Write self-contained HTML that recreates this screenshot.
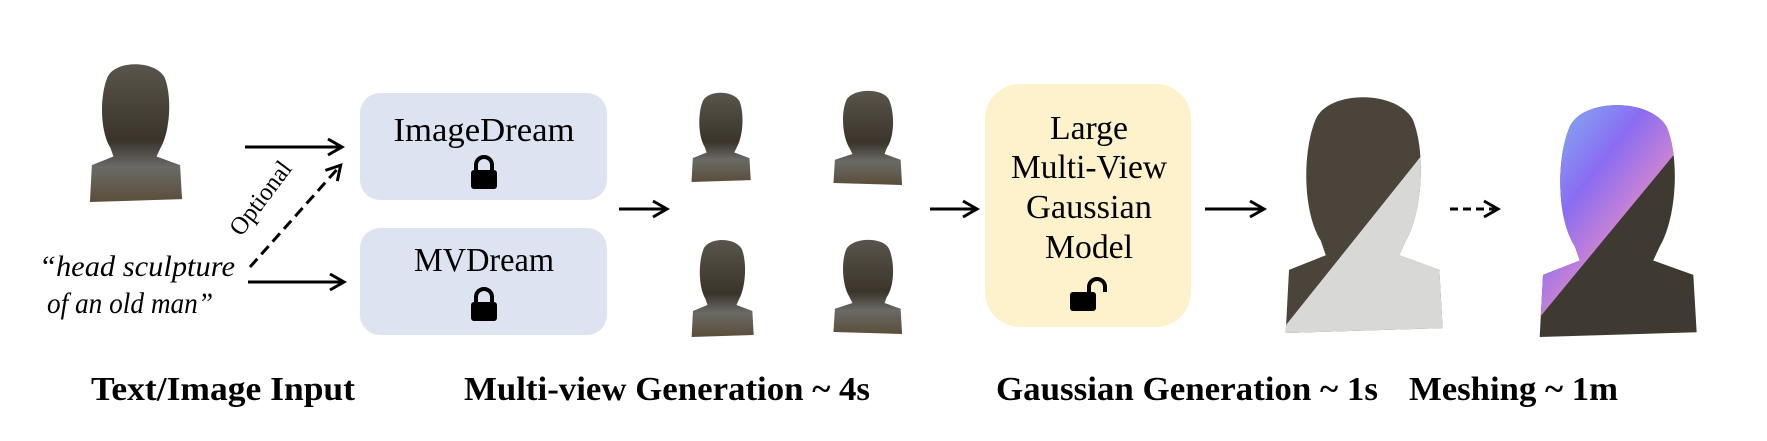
<!DOCTYPE html>
<html><head><meta charset="utf-8"><style>html,body{margin:0;padding:0;background:#fff}svg{display:block}</style></head>
<body>
<svg width="1767" height="441" viewBox="0 0 1767 441" xmlns="http://www.w3.org/2000/svg" font-family="Liberation Serif, serif">
<defs>
<marker id="ah2" viewBox="0 0 20 20" markerWidth="20" markerHeight="20" refX="16" refY="10" orient="auto" markerUnits="userSpaceOnUse"><path d="M3,2 L17,10 L3,18" fill="none" stroke="#000" stroke-width="3"/></marker>
<path id="bust" d="M22,12 C30,0 70,0 80,12 C88,25 86,50 76,62 L72,68 L96,74 L98,98 L4,100 L6,74 L28,68 L25,62 C14,50 14,25 22,12 Z"/>
<linearGradient id="bronze" x1="0" y1="0" x2="0" y2="1"><stop offset="0" stop-color="#5a554c"/><stop offset="0.55" stop-color="#3a342b"/><stop offset="0.75" stop-color="#6a6a66"/><stop offset="1" stop-color="#5b4d3a"/></linearGradient>
<linearGradient id="nrm" x1="0" y1="0" x2="1" y2="1"><stop offset="0" stop-color="#7fd0f0"/><stop offset="0.35" stop-color="#8a6cf2"/><stop offset="0.6" stop-color="#e48cc8"/><stop offset="1" stop-color="#6a8af5"/></linearGradient>
<clipPath id="cg"><use href="#bust" transform="translate(1279,90) scale(1.67,2.43)"/></clipPath>
<clipPath id="cn"><use href="#bust" transform="translate(1533,98) scale(1.67,2.39)"/></clipPath>
</defs>

<use href="#bust" transform="translate(86,60) scale(0.98,1.42)" fill="url(#bronze)"/>
<text x="137" y="276" font-size="30" font-style="italic" text-anchor="middle" textLength="196" lengthAdjust="spacingAndGlyphs">“head sculpture</text>
<text x="130" y="313" font-size="30" font-style="italic" text-anchor="middle" textLength="166" lengthAdjust="spacingAndGlyphs">of an old man”</text>

<line x1="245" y1="147" x2="341" y2="147" stroke="#000" stroke-width="3" marker-end="url(#ah2)"/>
<line x1="248" y1="282" x2="343" y2="282" stroke="#000" stroke-width="3" marker-end="url(#ah2)"/>
<line x1="250" y1="267" x2="340" y2="166" stroke="#000" stroke-width="3" stroke-dasharray="11,6" marker-end="url(#ah2)"/>
<text x="0" y="0" font-size="25" text-anchor="middle" transform="translate(267,203) rotate(-53)" textLength="86" lengthAdjust="spacingAndGlyphs">Optional</text>

<rect x="360" y="93" width="247" height="107" rx="20" fill="#dde3f0"/>
<text x="484" y="141" font-size="34" text-anchor="middle" textLength="181" lengthAdjust="spacingAndGlyphs">ImageDream</text>
<g transform="translate(484,174)"><path d="M-8,-4 V-9 A8,8 0 0 1 8,-9 V-4" fill="none" stroke="#000" stroke-width="4"/><rect x="-13" y="-4" width="26" height="19" rx="3"/></g>
<rect x="360" y="228" width="247" height="107" rx="20" fill="#dde3f0"/>
<text x="484" y="271" font-size="34" text-anchor="middle" textLength="140" lengthAdjust="spacingAndGlyphs">MVDream</text>
<g transform="translate(484,306)"><path d="M-8,-4 V-9 A8,8 0 0 1 8,-9 V-4" fill="none" stroke="#000" stroke-width="4"/><rect x="-13" y="-4" width="26" height="19" rx="3"/></g>

<line x1="619" y1="209" x2="666" y2="209" stroke="#000" stroke-width="3" marker-end="url(#ah2)"/>

<use href="#bust" transform="translate(689,90) scale(0.63,0.92)" fill="url(#bronze)"/>
<use href="#bust" transform="translate(905,88) scale(-0.73,0.97)" fill="url(#bronze)"/>
<use href="#bust" transform="translate(689,237) scale(0.66,1.0)" fill="url(#bronze)"/>
<use href="#bust" transform="translate(905,237) scale(-0.73,0.97)" fill="url(#bronze)"/>

<line x1="930" y1="209" x2="976" y2="209" stroke="#000" stroke-width="3" marker-end="url(#ah2)"/>

<rect x="985" y="84" width="206" height="243" rx="35" fill="#fdf2cc"/>
<g font-size="34" text-anchor="middle">
<text x="1089" y="139" textLength="78" lengthAdjust="spacingAndGlyphs">Large</text>
<text x="1089" y="178" textLength="156" lengthAdjust="spacingAndGlyphs">Multi-View</text>
<text x="1089" y="218" textLength="126" lengthAdjust="spacingAndGlyphs">Gaussian</text>
<text x="1089" y="258" textLength="88" lengthAdjust="spacingAndGlyphs">Model</text>
</g>
<g transform="translate(1083,296)"><path d="M6,-4 V-9 A8,8 0 0 1 22,-9 V-4" fill="none" stroke="#000" stroke-width="4"/><rect x="-13" y="-4" width="26" height="19" rx="3"/></g>

<line x1="1205" y1="209" x2="1263" y2="209" stroke="#000" stroke-width="3" marker-end="url(#ah2)"/>

<g clip-path="url(#cg)">
<rect x="1270" y="80" width="190" height="260" fill="#4a443b"/>
<polygon points="1470,95 1470,345 1270,345" fill="#d8d8d6"/>
</g>

<line x1="1450" y1="209" x2="1497" y2="209" stroke="#000" stroke-width="3" stroke-dasharray="8,5" marker-end="url(#ah2)"/>

<g clip-path="url(#cn)">
<rect x="1525" y="90" width="190" height="260" fill="#3f3a31"/>
<polygon points="1525,90 1715,90 1715,105 1525,335" fill="url(#nrm)"/>
</g>

<g font-size="34" font-weight="bold">
<text x="91" y="400" textLength="264" lengthAdjust="spacingAndGlyphs">Text/Image Input</text>
<text x="464" y="400" textLength="406" lengthAdjust="spacingAndGlyphs">Multi-view Generation ~ 4s</text>
<text x="996" y="400" textLength="382" lengthAdjust="spacingAndGlyphs">Gaussian Generation ~ 1s</text>
<text x="1409" y="400" textLength="209" lengthAdjust="spacingAndGlyphs">Meshing ~ 1m</text>
</g>
</svg>
</body></html>
